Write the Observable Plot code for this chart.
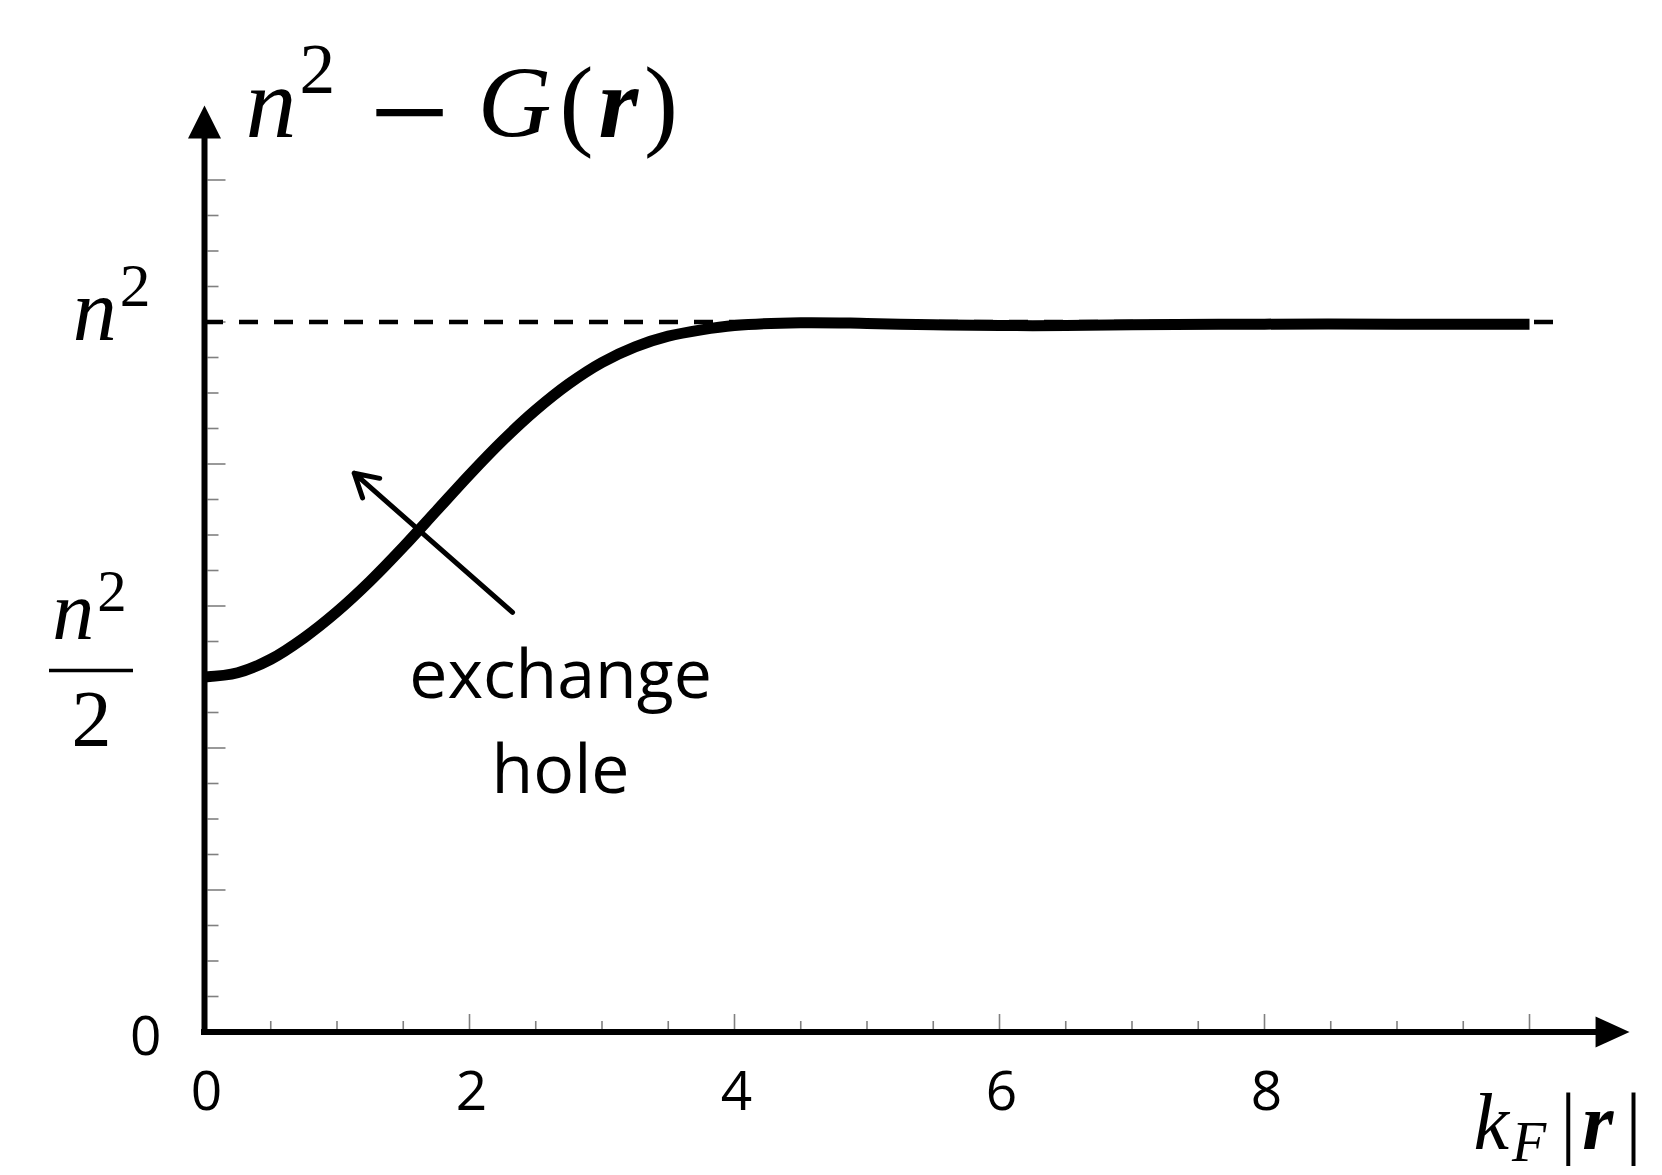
<!DOCTYPE html>
<html><head><meta charset="utf-8">
<script src="https://cdn.jsdelivr.net/npm/d3@7"></script>
<script src="https://cdn.jsdelivr.net/npm/@observablehq/plot@0.6"></script>
<style>
html,body{margin:0;padding:0;background:#fff;}
#chart{width:1662px;height:1175px;overflow:hidden;}
</style></head><body><div id="chart"></div>
<script>
// ---- data (y in units of n^2, x = k_F|r|) ----
const kr = [0, 0.25, 0.5, 0.75, 1, 1.25, 1.5, 1.75, 2, 2.25, 2.5, 2.75, 3, 3.25, 3.5, 3.75, 4, 4.5, 5, 5.5, 6, 6.5, 7, 8, 9, 10];
const pairDensity = [0.500, 0.506, 0.525, 0.555, 0.592, 0.635, 0.683, 0.734, 0.785, 0.833, 0.876, 0.913, 0.943, 0.965, 0.980, 0.989, 0.995, 0.999, 0.998, 0.996, 0.995, 0.995, 0.996, 0.997, 0.997, 0.997];
const xTickLabels = [0, 2, 4, 6, 8];
const yZeroLabel = ["0"];
const xMinorStep = 0.5, xMajorStep = 2, xTickMax = 10;
const yMinorStep = 0.05, yMajorStep = 0.2, yTickMax = 1.2;
const asymptote = 1;          // n^2
const halfLevel = 0.5;        // n^2/2
const asymptoteEnd = 10.2;    // dashed line extent
const xAxisEnd = 10.755, yAxisEnd = 1.305;
const annotationText = ["exchange\nhole"];
const annotationPos = {x: 2.687, y: 0.337};
const annotationArrow = [{x1: 2.325, y1: 0.591, x2: 1.13, y2: 0.787}];
const yTitle = "n² − G(r)";
const xTitle = "k_F|r|";
const yLabelTop = "n²";
const yLabelHalfNum = "n² ";
const yLabelHalfDen = "2";

const curve = kr.map((x, i) => ({x, y: pairDensity[i]}));
const xTicks = d3.range(xMinorStep, xTickMax + 1e-9, xMinorStep).map(v => +v.toFixed(2));
const yTicks = d3.range(yMinorStep, yTickMax + 1e-9, yMinorStep).map(v => +v.toFixed(2));
const isMajor = (v, step) => Math.abs(v / step - Math.round(v / step)) < 1e-6;

// custom symbols
const hTick = len => ({draw(ctx){ ctx.moveTo(3, 0); ctx.lineTo(3 + len, 0); }});
const vTick = len => ({draw(ctx){ ctx.moveTo(0, -3); ctx.lineTo(0, -3 - len); }});
const head = (L, W) => ({draw(ctx){ ctx.moveTo(0, 0); ctx.lineTo(W / 2, L); ctx.lineTo(-W / 2, L); ctx.closePath(); }});

const tickGray = "#808080";
const sans = "'Open Sans', sans-serif";
const serif = "'Liberation Serif', 'DejaVu Serif', serif";

const plot = Plot.plot({
  width: 1662, height: 1175, margin: 0,
  style: {background: "white", overflow: "visible"},
  x: {domain: [0, 10], range: [204, 1529], axis: null},
  y: {domain: [0, 1], range: [1031.5, 321.5], axis: null},
  marks: [
    // y ticks
    Plot.dot(yTicks.filter(v => !isMajor(v, yMajorStep)), {x: 0, y: d => d, symbol: hTick(11), fill: "none", stroke: tickGray, strokeWidth: 1.6}),
    Plot.dot(yTicks.filter(v => isMajor(v, yMajorStep)), {x: 0, y: d => d, symbol: hTick(18), fill: "none", stroke: tickGray, strokeWidth: 1.6}),
    // x ticks
    Plot.dot(xTicks.filter(v => !isMajor(v, xMajorStep)), {x: d => d, y: 0, symbol: vTick(8), fill: "none", stroke: tickGray, strokeWidth: 1.6}),
    Plot.dot(xTicks.filter(v => isMajor(v, xMajorStep)), {x: d => d, y: 0, symbol: vTick(15), fill: "none", stroke: tickGray, strokeWidth: 1.6}),
    // dashed asymptote
    Plot.ruleY([asymptote], {x1: 0, x2: asymptoteEnd, stroke: "black", strokeWidth: 4.5, strokeDasharray: "19,16"}),
    // curve
    Plot.line(curve, {x: "x", y: "y", stroke: "black", strokeWidth: 11, curve: "catmull-rom", strokeLinejoin: "round", strokeLinecap: "butt"}),
    // axes
    Plot.ruleX([0], {y1: 0, y2: yAxisEnd - 0.03, stroke: "black", strokeWidth: 6, insetBottom: -3}),
    Plot.ruleY([0], {x1: 0, x2: xAxisEnd - 0.15, stroke: "black", strokeWidth: 6, insetLeft: -3}),
    Plot.dot([0], {x: 0, y: yAxisEnd, symbol: head(33, 33), fill: "black", stroke: "none"}),
    Plot.dot([0], {x: xAxisEnd, y: 0, symbol: head(34, 31), fill: "black", stroke: "none", rotate: 90}),
    // tick labels
    Plot.text(xTickLabels, {x: d => d, y: 0, text: d => String(d), dx: 2, dy: 60, fontFamily: sans, fontSize: 55, fill: "black"}),
    Plot.text(yZeroLabel, {x: 0, y: 0, text: d => d, dx: -43, dy: 5.5, textAnchor: "end", fontFamily: sans, fontSize: 55, fill: "black"}),
    // math labels
    Plot.text([yTitle], {x: 0, y: yAxisEnd, text: d => d, dx: 41, dy: 32, textAnchor: "start", lineAnchor: "bottom", fontFamily: serif, fontSize: 102, fill: "black"}),
    Plot.text([yLabelTop], {x: 0, y: asymptote, text: d => d, dx: -54, dy: 17.5, textAnchor: "end", lineAnchor: "bottom", fontFamily: serif, fontSize: 88, fill: "black"}),
    Plot.text([yLabelHalfNum], {x: 0, y: halfLevel, text: d => d, dx: -115, dy: -38.5, textAnchor: "middle", lineAnchor: "bottom", fontFamily: serif, fontSize: 84, fill: "black"}),
    Plot.text([yLabelHalfDen], {x: 0, y: halfLevel, text: d => d, dx: -113, dy: 68.5, textAnchor: "middle", lineAnchor: "bottom", fontFamily: serif, fontSize: 80, fill: "black"}),
    Plot.ruleY([halfLevel], {x1: 0, x2: 0, insetLeft: -155, insetRight: 71, dy: -6.5, stroke: "black", strokeWidth: 3.3}),
    Plot.text([xTitle], {x: xAxisEnd, y: 0, text: d => d, dx: -156, dy: 116.5, textAnchor: "start", lineAnchor: "bottom", fontFamily: serif, fontSize: 80, fill: "black"}),
    // annotation
    Plot.arrow(annotationArrow, {x1: "x1", y1: "y1", x2: "x2", y2: "y2", stroke: "black", strokeWidth: 5, headLength: 7.8, headAngle: 60, strokeLinecap: "round", strokeLinejoin: "round"}),
    Plot.text(annotationText, {x: annotationPos.x, y: annotationPos.y, text: d => d, textAnchor: "middle", lineAnchor: "bottom", lineHeight: 1.40, fontFamily: sans, fontSize: 68, fill: "black"})
  ]
});

// ---- typeset the math labels with tspans ----
const mathSegs = {
  [yTitle]: {size: 102, segs: [
    {t: "n", i: 1}, {t: "2", s: 0.7, dx: 3, rise: -44}, {t: "−", s: 1.4, dx: 34, rise: 23},
    {t: "G", i: 1, dx: 28, rise: 0}, {t: "(", dx: 8}, {t: "r", i: 1, b: 1, dx: 5}, {t: ")", dx: 6}]},
  [yLabelTop]: {size: 88, segs: [{t: "n", i: 1}, {t: "2", s: 0.7, dx: 3, rise: -34}]},
  [yLabelHalfNum]: {size: 84, segs: [{t: "n", i: 1}, {t: "2", s: 0.7, dx: 3, rise: -28}]},
  [xTitle]: {size: 80, segs: [
    {t: "k", i: 1}, {t: "F", i: 1, s: 0.7, dx: 3, rise: 12}, {t: "|", dx: 14, rise: 0},
    {t: "r", i: 1, b: 1, dx: 6}, {t: "|", dx: 12}]}
};
const NS = "http://www.w3.org/2000/svg";
plot.querySelectorAll("text").forEach(el => {
  const m = mathSegs[el.textContent];
  if (!m) return;
  while (el.firstChild) el.removeChild(el.firstChild);
  let cur = 0;
  for (const s of m.segs) {
    const t = document.createElementNS(NS, "tspan");
    t.textContent = s.t;
    t.setAttribute("font-style", s.i ? "italic" : "normal");
    if (s.b) t.setAttribute("font-weight", "bold");
    if (s.s) t.setAttribute("font-size", m.size * s.s);
    if (s.dx) t.setAttribute("dx", s.dx);
    if (s.rise !== undefined) {
      const ddy = s.rise - cur;
      if (ddy) t.setAttribute("dy", ddy);
      cur = s.rise;
    }
    el.appendChild(t);
  }
});

document.getElementById("chart").appendChild(plot);
</script>
</body></html>
